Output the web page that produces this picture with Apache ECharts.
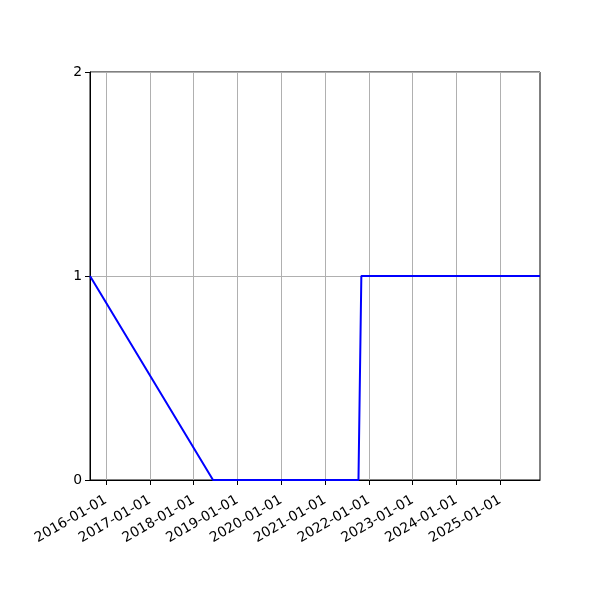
<!DOCTYPE html>
<html><head><meta charset="utf-8">
<script src="https://cdn.jsdelivr.net/npm/echarts@6/dist/echarts.min.js"></script>
<style>html,body{margin:0;padding:0;background:#fff}#c{width:600px;height:600px}</style>
</head><body><div id="c"></div>
<script>
const dates = ['2015-08-21', '2018-06-12', '2021-10-07', '2021-10-31', '2025-11-29'];
const values = [1, 0, 0, 1, 1];
const xTicks = ['2016-01-01','2017-01-01','2018-01-01','2019-01-01','2020-01-01','2021-01-01','2022-01-01','2023-01-01','2024-01-01','2025-01-01'];
const yTicks = [0, 1, 2];

const ts = d => new Date(d + 'T00:00:00Z').getTime();
const tickVals = xTicks.map(ts);
const chart = echarts.init(document.getElementById('c'), null, {renderer: 'canvas'});
chart.setOption({
  animation: false,
  grid: {left: 90, right: 60, top: 72, bottom: 120, show: true, borderColor: '#000', borderWidth: 1, backgroundColor: 'transparent'},
  xAxis: {
    type: 'value',
    min: ts(dates[0]), max: ts(dates[dates.length - 1]),
    axisLine: {show: true, onZero: false, lineStyle: {color: '#000', width: 1}},
    axisTick: {show: true, customValues: tickVals, length: 5, lineStyle: {color: '#000'}},
    axisLabel: {
      customValues: tickVals, rotate: 30, color: '#000', fontSize: 13.9, fontFamily: 'DejaVu Sans', margin: 19,
      formatter: v => { const d = new Date(v); return d.toISOString().slice(0, 10); }
    },
    splitLine: {show: true, lineStyle: {color: '#b0b0b0', width: 1}}
  },
  yAxis: {
    type: 'value', min: yTicks[0], max: yTicks[yTicks.length - 1], interval: 1,
    axisLine: {show: true, lineStyle: {color: '#000', width: 1}},
    axisTick: {show: true, length: 5, lineStyle: {color: '#000'}},
    axisLabel: {color: '#000', fontSize: 13.9, fontFamily: 'DejaVu Sans', margin: 8},
    splitLine: {show: true, lineStyle: {color: '#b0b0b0', width: 1}}
  },
  series: [{
    type: 'line', showSymbol: false, symbol: 'none',
    data: dates.map((d, i) => [ts(d), values[i]]),
    lineStyle: {color: '#0000ff', width: 2},
    itemStyle: {color: '#0000ff'}
  }]
});
</script></body></html>
